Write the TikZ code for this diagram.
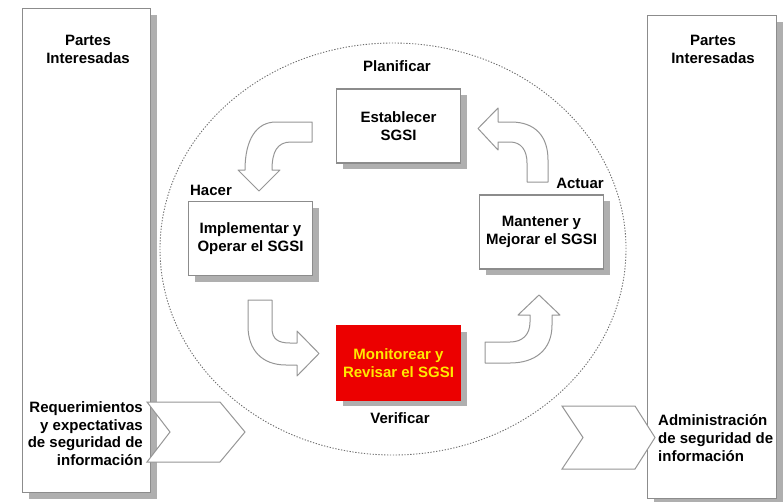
\documentclass[tikz,border=0pt]{standalone}
\usepackage{fontspec}
\setmainfont{Liberation Sans}
\usetikzlibrary{shadows}
\definecolor{linegray}{RGB}{140,140,140}
\definecolor{shadowgray}{RGB}{175,175,175}
\definecolor{arrowgray}{RGB}{150,150,150}
\definecolor{dotgray}{RGB}{110,110,110}
\definecolor{alertred}{RGB}{236,0,0}
\definecolor{alertyellow}{RGB}{255,232,0}
\begin{document}
\begin{tikzpicture}[x=1pt,y=-1pt,
  every node/.style={font=\fontsize{15}{18}\selectfont\bfseries, inner sep=0pt},
  softshadow/.style={drop shadow={shadow xshift=6pt, shadow yshift=-6pt, fill=shadowgray, opacity=1}},
  panel/.style={draw=linegray, line width=1.2pt, fill=white, softshadow, anchor=north west},
  stepbox/.style={draw=linegray, line width=1.2pt, fill=white, softshadow,
    minimum width=124pt, minimum height=74pt, align=center},
  alertbox/.style={stepbox, draw=alertred, fill=alertred, text=alertyellow},
  blockarrow/.style={draw=arrowgray, line width=1pt, fill=white, line join=round},
  chevron/.style={draw=arrowgray, line width=1pt, fill=white, line join=miter},
  phase/.style={anchor=center},
  cycleline/.style={draw=dotgray, line width=0.9pt, dash pattern=on 1.3pt off 1.6pt}
]
\useasboundingbox (0,0) rectangle (783,501);

% dotted cycle boundary
\draw[cycleline] (393,249) ellipse [x radius=233pt, y radius=206pt];

% stakeholder columns
\node[panel, minimum width=128pt, minimum height=484pt] (leftpanel) at (22,8) {};
\node[panel, minimum width=129pt, minimum height=483pt] (rightpanel) at (647,15) {};
\node[align=center] (lefttitle) at (88,49) {Partes\\Interesadas};
\node[align=center] (righttitle) at (713,49) {Partes\\Interesadas};

% input / output chevrons
\draw[chevron] (147,402) -- (220,402) -- (245,432) -- (220,462) -- (147,462) -- (170,432) -- cycle;
\draw[chevron] (562,406) -- (635,406) -- (655,437.5) -- (635,469) -- (562,469) -- (583,437.5) -- cycle;
\node[anchor=east, align=right, font=\fontsize{15}{17.6}\selectfont\bfseries] (input) at (143,433.5)
  {Requerimientos\\y expectativas\\de seguridad de\\información};
\node[anchor=west, align=left] (output) at (658,438.5)
  {Administración\\de seguridad de\\información};

% PDCA steps
\node[stepbox] (plan) at (398.5,126) {Establecer\\SGSI};
\node[stepbox] (do) at (250.5,238.5) {Implementar y\\Operar el SGSI};
\node[stepbox] (act) at (541.5,232) {Mantener y\\Mejorar el SGSI};
\node[alertbox] (check) at (398.5,363) {Monitorear y\\Revisar el SGSI};

% phase labels
\node[phase] (lplan) at (397,66) {Planificar};
\node[phase] (ldo) at (211,190) {Hacer};
\node[phase] (lact) at (580,183) {Actuar};
\node[phase] (lcheck) at (400,418) {Verificar};

% curved block arrows between the steps
\draw[blockarrow] (312,122) -- (276,122) .. controls (256,122) and (245,140) .. (245,170)
  -- (238,170) -- (259,191) -- (280,170) -- (272,170)
  .. controls (272,152) and (277,142) .. (291,142) -- (312,142) -- cycle;
\draw[blockarrow] (548,182) -- (548,160) .. controls (548,136) and (535,122) .. (511,122)
  -- (498,122) -- (498,108) -- (478,128.5) -- (498,150) -- (498,142) -- (510,142)
  .. controls (521,142) and (527,150) .. (527,163) -- (527,182) -- cycle;
\draw[blockarrow] (248,300) -- (272,300) -- (272,328) .. controls (272,339) and (278,343) .. (290,343)
  -- (297,343) -- (297,331) -- (319,353.5) -- (297,376) -- (297,365) -- (286,365)
  .. controls (262,365) and (248,350) .. (248,326) -- cycle;
\draw[blockarrow] (485,342) -- (510,342) .. controls (522,342) and (530,335) .. (530,322)
  -- (530,315) -- (518,315) -- (539,295) -- (560,315) -- (552,315) -- (552,325)
  .. controls (552,350) and (535,363) .. (510,363) -- (485,363) -- cycle;
\end{tikzpicture}
\end{document}
